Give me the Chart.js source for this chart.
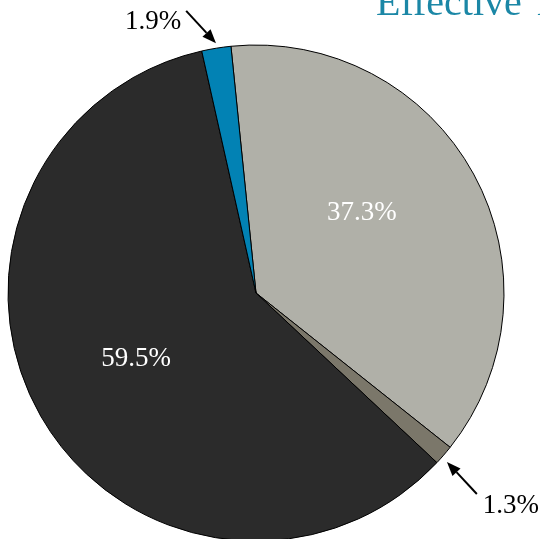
<!DOCTYPE html>
<html>
<head>
<meta charset="utf-8">
<script src="https://cdn.jsdelivr.net/npm/chart.js@4/dist/chart.umd.min.js"></script>
<style>
  html, body { margin: 0; padding: 0; background: #ffffff; overflow: hidden; }
  canvas { display: block; }
</style>
</head>
<body>
<canvas id="chart" width="540" height="539"></canvas>
<script>
// Slice data, clockwise from the starting angle
const categories = ['Segment A', 'Segment B', 'Segment C', 'Segment D'];
const shares = [37.3, 1.3, 59.5, 1.9];
const titleText = 'Effective Tax Rate';

// Styling
const sliceColors = ['#b0b0a8', '#7b776a', '#2b2b2b', '#0282b4'];
const startAngle = -5.8;   // degrees clockwise from 12 o'clock
const pieRadius = 248;
const serif = '"Liberation Serif", "DejaVu Serif", serif';

// Label placement in polar terms around the pie centre (angle in degrees from top, r in radii)
const labelPlacement = [
  { inside: true,  text: { angle: 55.4,  r: 0.519 } },
  { inside: false, text: { angle: 130.8, r: 1.358 },
    tail: { angle: 132.3, r: 1.204 }, tip: { angle: 131.5, r: 1.028 } },
  { inside: true,  text: { angle: 238.7, r: 0.566 } },
  { inside: false, text: { angle: 338.7, r: 1.143 },
    tail: { angle: 346.1, r: 1.172 }, tip: { angle: 350.9, r: 1.02 } }
];

function polar(cx, cy, R, p) {
  const a = p.angle * Math.PI / 180;
  return { x: cx + p.r * R * Math.sin(a), y: cy - p.r * R * Math.cos(a) };
}

function drawArrow(ctx, from, to) {
  const head = 14, half = 5.5;
  const ang = Math.atan2(to.y - from.y, to.x - from.x);
  const bx = to.x - head * Math.cos(ang), by = to.y - head * Math.sin(ang);
  ctx.save();
  ctx.strokeStyle = '#000';
  ctx.fillStyle = '#000';
  ctx.lineWidth = 2;
  ctx.beginPath();
  ctx.moveTo(from.x, from.y);
  ctx.lineTo(bx, by);
  ctx.stroke();
  ctx.beginPath();
  ctx.moveTo(to.x, to.y);
  ctx.lineTo(bx + half * Math.sin(ang), by - half * Math.cos(ang));
  ctx.lineTo(bx - half * Math.sin(ang), by + half * Math.cos(ang));
  ctx.closePath();
  ctx.fill();
  ctx.restore();
}

const sliceLabels = {
  id: 'sliceLabels',
  afterDatasetsDraw(chart) {
    const ctx = chart.ctx;
    const meta = chart.getDatasetMeta(0);
    const arc = meta.data[0];
    const cx = arc.x, cy = arc.y, R = arc.outerRadius;
    ctx.save();
    ctx.font = '27px ' + serif;
    ctx.textAlign = 'center';
    ctx.textBaseline = 'alphabetic';
    shares.forEach((v, i) => {
      const place = labelPlacement[i];
      const pos = polar(cx, cy, R, place.text);
      ctx.fillStyle = place.inside ? '#ffffff' : '#000000';
      ctx.fillText(v.toFixed(1) + '%', pos.x, pos.y);
      if (!place.inside) {
        drawArrow(ctx, polar(cx, cy, R, place.tail), polar(cx, cy, R, place.tip));
      }
    });
    ctx.restore();
  }
};

const headline = {
  id: 'headline',
  afterDraw(chart) {
    const ctx = chart.ctx;
    ctx.save();
    ctx.font = '40px ' + serif;
    ctx.fillStyle = '#1b87a6';
    ctx.textAlign = 'left';
    ctx.textBaseline = 'alphabetic';
    ctx.fillText(titleText, 376, 15);
    ctx.restore();
  }
};

new Chart(document.getElementById('chart'), {
  type: 'pie',
  data: {
    labels: categories,
    datasets: [{
      data: shares,
      backgroundColor: sliceColors,
      borderColor: '#000000',
      borderWidth: 1
    }]
  },
  options: {
    responsive: false,
    animation: false,
    rotation: startAngle,
    radius: pieRadius,
    layout: { padding: { left: 0, right: 28, top: 47, bottom: 0 } },
    plugins: {
      legend: { display: false },
      tooltip: { enabled: false },
      title: { display: false }
    }
  },
  plugins: [sliceLabels, headline]
});
</script>
</body>
</html>
